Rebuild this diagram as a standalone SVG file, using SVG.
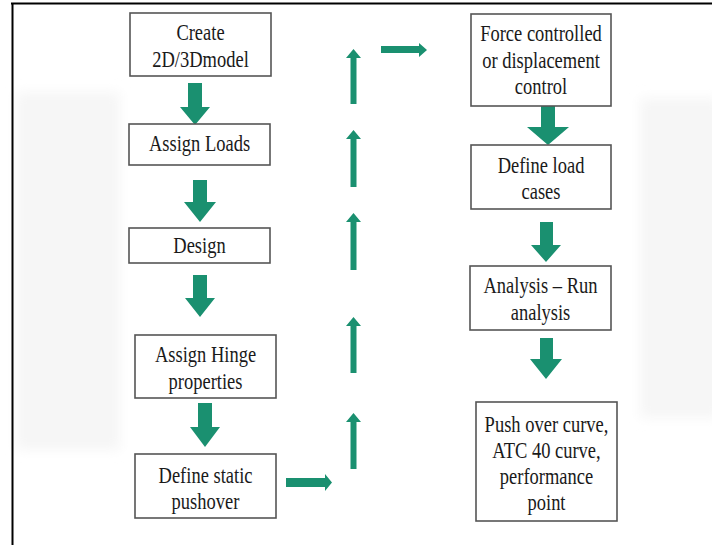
<svg xmlns="http://www.w3.org/2000/svg" width="712" height="545" viewBox="0 0 712 545">
<defs>
<filter id="soft" x="-20%" y="-20%" width="140%" height="140%"><feGaussianBlur stdDeviation="6"/></filter>
<style>
.box{fill:#ffffff;stroke:#555555;stroke-width:1.6}
.lbl{font-family:"Liberation Serif","Times New Roman",serif;font-size:18.5px;fill:#1a1a1a;text-anchor:middle}
.arr{fill:#1a9070}
.bg{fill:#f6f6f6}
</style>
</defs>
<rect width="712" height="545" fill="#ffffff"/>
<rect class="bg" x="16" y="92" width="104" height="358" filter="url(#soft)"/>
<rect class="bg" x="640" y="98" width="80" height="320" filter="url(#soft)"/>
<path d="M11 3.5H712M12.5 3V545" stroke="#000" stroke-width="2" fill="none"/>

<g id="connectors">
<polygon class="arr" points="188,83 202,83 202,107 210,107 195,125 180,107 188,107"/>
<polygon class="arr" points="193,180 207,180 207,202 216,202 200,222 184,202 193,202"/>
<polygon class="arr" points="193,275 207,275 207,298 215,298 200,317 185,298 193,298"/>
<polygon class="arr" points="198,403 212,403 212,427 220,427 205,447 190,427 198,427"/>
<polygon class="arr" points="541,106 555,106 555,127 569,127 548,145 527,127 541,127"/>
<polygon class="arr" points="540,222 553,222 553,245 561,245 546,262 531,245 540,245"/>
<polygon class="arr" points="540,338 553,338 553,359 562,359 546,379 530,359 540,359"/>
<polygon class="arr" points="286,478 325,478 325,474 332,482.5 325,491 325,487 286,487"/>
<polygon class="arr" points="350.5,104 356.5,104 356.5,58 361,58 353.5,49 346,58 350.5,58"/>
<polygon class="arr" points="350.5,187 356.5,187 356.5,139 361,139 353.5,130 346,139 350.5,139"/>
<polygon class="arr" points="350.5,270 356.5,270 356.5,222 361,222 353.5,213 346,222 350.5,222"/>
<polygon class="arr" points="350.5,373 356.5,373 356.5,326 361,326 353.5,317 346,326 350.5,326"/>
<polygon class="arr" points="350.5,469 356.5,469 356.5,422 361,422 353.5,413 346,422 350.5,422"/>
<polygon class="arr" points="381,46 419,46 419,43 427,50 419,57 419,53 381,53"/>
</g>

<g id="n1">
<rect class="box" x="130" y="13" width="141" height="63"/>
<text class="lbl" transform="translate(200.5,40) scale(1,1.2)"><tspan x="0" y="0">Create</tspan><tspan x="0" y="22.5">2D/3Dmodel</tspan></text>
</g>
<g id="n2">
<rect class="box" x="129" y="124" width="141" height="41"/>
<text class="lbl" transform="translate(199.5,151) scale(1,1.2)">Assign Loads</text>
</g>
<g id="n3">
<rect class="box" x="129" y="228" width="141" height="35"/>
<text class="lbl" transform="translate(199.5,253) scale(1,1.2)">Design</text>
</g>
<g id="n4">
<rect class="box" x="135" y="335" width="141" height="63"/>
<text class="lbl" transform="translate(205.5,362) scale(1,1.2)"><tspan x="0" y="0">Assign Hinge</tspan><tspan x="0" y="22.5">properties</tspan></text>
</g>
<g id="n5">
<rect class="box" x="135" y="454" width="141" height="64"/>
<text class="lbl" transform="translate(205.5,483) scale(1,1.2)"><tspan x="0" y="0">Define static</tspan><tspan x="0" y="21.7">pushover</tspan></text>
</g>
<g id="n6">
<rect class="box" x="471" y="14" width="140" height="92"/>
<text class="lbl" transform="translate(541,41) scale(1,1.2)"><tspan x="0" y="0">Force controlled</tspan><tspan x="0" y="22.5">or displacement</tspan><tspan x="0" y="44.2">control</tspan></text>
</g>
<g id="n7">
<rect class="box" x="471" y="145" width="140" height="64"/>
<text class="lbl" transform="translate(541,173) scale(1,1.2)"><tspan x="0" y="0">Define load</tspan><tspan x="0" y="21.7">cases</tspan></text>
</g>
<g id="n8">
<rect class="box" x="470" y="266" width="141" height="64"/>
<text class="lbl" transform="translate(540.5,293) scale(1,1.2)"><tspan x="0" y="0">Analysis – Run</tspan><tspan x="0" y="22.5">analysis</tspan></text>
</g>
<g id="n9">
<rect class="box" x="476" y="402" width="141" height="119"/>
<text class="lbl" transform="translate(546.5,432) scale(1,1.2)"><tspan x="0" y="0">Push over curve,</tspan><tspan x="0" y="21.7">ATC 40 curve,</tspan><tspan x="0" y="43.3">performance</tspan><tspan x="0" y="65">point</tspan></text>
</g>
</svg>
